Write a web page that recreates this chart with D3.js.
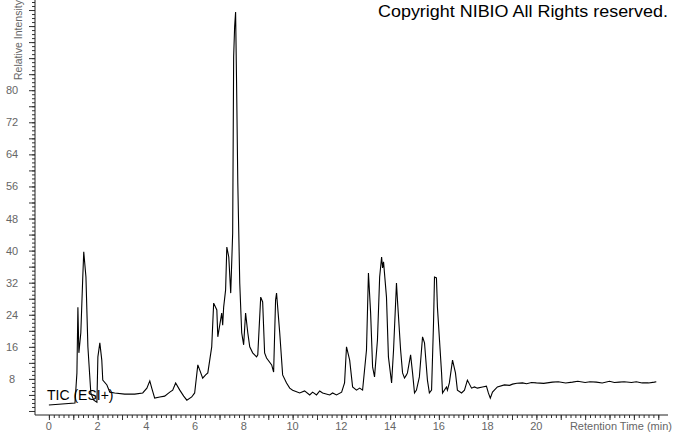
<!DOCTYPE html>
<html>
<head>
    <meta charset="utf-8">
    <title>TIC chromatogram</title>
    <script src="https://cdn.jsdelivr.net/npm/d3@7"></script>
    <style>
        body { margin: 0; background: #fff; }
        text { font-family: "Liberation Sans", Arial, sans-serif; }
    </style>
</head>
<body>
    <script>
        // retention time (min) and relative intensity
        var times = [
          0.00, 1.07, 1.15, 1.19, 1.23, 1.31, 1.39, 1.43, 1.52, 1.60, 1.72, 1.84, 1.97, 2.01, 2.09, 2.17, 2.21, 2.38, 2.50, 2.70,
          3.11, 3.52, 3.85, 4.02, 4.14, 4.22, 4.34, 4.55, 4.75, 4.96, 5.08, 5.20, 5.37, 5.53, 5.66, 5.86, 5.98, 6.11, 6.19, 6.31,
          6.43, 6.52, 6.68, 6.76, 6.89, 6.93, 7.09, 7.13, 7.17, 7.25, 7.30, 7.38, 7.46, 7.54, 7.58, 7.62, 7.66, 7.70, 7.75, 7.83,
          7.91, 7.99, 8.07, 8.16, 8.24, 8.36, 8.52, 8.57, 8.69, 8.77, 8.85, 8.93, 9.14, 9.22, 9.30, 9.34, 9.47, 9.59, 9.75, 9.88,
          10.00, 10.29, 10.49, 10.70, 10.82, 10.98, 11.11, 11.23, 11.52, 11.64, 11.80, 12.01, 12.13, 12.21, 12.34, 12.46, 12.62, 12.75, 12.87, 13.03,
          13.11, 13.20, 13.28, 13.36, 13.48, 13.57, 13.65, 13.69, 13.73, 13.85, 13.93, 14.06, 14.14, 14.26, 14.30, 14.43, 14.51, 14.59, 14.67, 14.71,
          14.84, 14.92, 15.00, 15.08, 15.20, 15.33, 15.41, 15.53, 15.61, 15.70, 15.78, 15.82, 15.90, 15.94, 16.11, 16.15, 16.31, 16.35, 16.43, 16.56,
          16.68, 16.76, 16.93, 17.05, 17.17, 17.34, 17.46, 17.58, 17.79, 17.95, 18.03, 18.11, 18.20, 18.40, 18.69, 18.90, 19.02, 19.20, 19.43, 19.60,
          19.80, 20.00, 20.30, 20.66, 20.90, 21.20, 21.48, 21.70, 22.00, 22.20, 22.46, 22.70, 23.00, 23.20, 23.40, 23.60, 23.90, 24.10, 24.34, 24.60,
          24.84, 24.92
        ];
        var intensity = [
          1.5, 2.0, 9.5, 25.9, 14.5, 19.5, 33.4, 39.7, 33.4, 16.0, 4.5, 2.7, 2.2, 13.5, 17.0, 12.7, 7.7, 6.5, 4.7, 4.5,
          4.2, 4.2, 4.5, 5.7, 7.5, 5.7, 3.2, 3.5, 3.7, 4.7, 5.2, 7.0, 5.2, 3.7, 2.7, 3.5, 4.5, 11.5, 10.2, 8.2,
          9.0, 9.5, 16.0, 26.9, 25.2, 18.5, 24.4, 21.4, 25.9, 30.2, 40.9, 38.4, 29.4, 44.4, 88.3, 95.8, 99.5, 81.8, 56.9, 31.9,
          19.5, 16.5, 24.4, 19.5, 16.0, 14.5, 13.5, 14.0, 28.4, 27.2, 14.5, 13.2, 11.5, 9.7, 27.7, 29.4, 19.5, 9.0, 7.0, 5.7,
          5.2, 4.5, 5.0, 4.0, 4.7, 4.0, 5.0, 4.5, 4.0, 4.5, 4.0, 4.7, 7.0, 16.0, 12.7, 6.0, 5.2, 5.7, 5.2, 15.2,
          34.4, 24.4, 11.0, 8.5, 17.7, 33.4, 38.4, 35.7, 37.2, 28.4, 13.5, 7.0, 15.2, 31.9, 27.7, 15.2, 9.5, 8.2, 9.0, 9.5,
          14.0, 9.5, 4.5, 5.2, 8.5, 18.5, 17.0, 7.7, 4.5, 5.2, 21.9, 33.4, 33.2, 25.9, 9.5, 4.5, 6.0, 5.2, 7.0, 12.7,
          9.5, 5.2, 4.5, 5.2, 7.7, 5.7, 6.0, 5.7, 6.0, 6.2, 4.5, 3.2, 4.7, 6.0, 6.5, 6.4, 6.7, 6.9, 7.0, 6.8,
          7.1, 7.0, 6.9, 7.2, 7.3, 7.0, 7.2, 7.4, 7.1, 7.3, 7.2, 7.0, 7.4, 7.1, 7.2, 7.3, 7.1, 7.3, 7.0, 7.0,
          7.2, 7.3
        ];
        var xLabels = [0, 2, 4, 6, 8, 10, 12, 14, 16, 18, 20];
        var yLabels = [8, 16, 24, 32, 40, 48, 56, 64, 72, 80];

        var width = 674;
        var height = 434;

        var x = d3.scaleLinear()
                  .domain([-0.57, 25.4])
                  .range([35, 668]);

        var y = d3.scaleLinear()
                  .domain([-1, 102.5])
                  .range([415, 0]);

        var svg = d3.select("body").append("svg")
            .attr("width", width)
            .attr("height", height);

        // y axis: minor ticks every unit, longer ones every 4
        svg.append("g")
            .attr("transform", "translate(35,0)")
            .call(d3.axisLeft(y).tickValues(d3.range(0, 103, 1)).tickSize(3).tickFormat(""))
            .call(function(g) { g.select(".domain").remove(); });
        svg.append("g")
            .attr("transform", "translate(35,0)")
            .call(d3.axisLeft(y).tickValues(d3.range(0, 103, 4)).tickSize(6).tickFormat(""))
            .call(function(g) { g.select(".domain").remove(); });

        // x axis: minor ticks every 0.2 min, longer every minute
        svg.append("g")
            .attr("transform", "translate(0,415)")
            .call(d3.axisBottom(x).tickValues(d3.range(0, 126, 1).map(function(d) { return d / 5; })).tickSize(3).tickFormat(""))
            .call(function(g) { g.select(".domain").remove(); });
        svg.append("g")
            .attr("transform", "translate(0,415)")
            .call(d3.axisBottom(x).tickValues(d3.range(0, 26, 1)).tickSize(5).tickFormat(""))
            .call(function(g) { g.select(".domain").remove(); });

        svg.selectAll(".tick line").attr("stroke", "#333");

        // axis lines
        svg.append("line")
            .attr("x1", 35).attr("x2", 35)
            .attr("y1", 0).attr("y2", 415)
            .attr("stroke", "#222");
        svg.append("line")
            .attr("x1", 35).attr("x2", 668)
            .attr("y1", 415).attr("y2", 415)
            .attr("stroke", "#222");

        // tick labels
        svg.selectAll(".ylab")
            .data(yLabels)
            .enter()
            .append("text")
            .attr("x", 12)
            .attr("y", function(d) { return y(d) + 4; })
            .attr("text-anchor", "middle")
            .attr("font-size", 11)
            .attr("fill", "#666")
            .text(function(d) { return d; });

        svg.selectAll(".xlab")
            .data(xLabels)
            .enter()
            .append("text")
            .attr("x", function(d) { return x(d); })
            .attr("y", 430)
            .attr("text-anchor", "middle")
            .attr("font-size", 11)
            .attr("fill", "#666")
            .text(function(d) { return d; });

        svg.append("text")
            .attr("x", 672)
            .attr("y", 430)
            .attr("text-anchor", "end")
            .attr("font-size", 11)
            .attr("fill", "#666")
            .text("Retention Time (min)");

        svg.append("text")
            .attr("transform", "translate(22,80) rotate(-90)")
            .attr("font-size", 10.5)
            .attr("fill", "#666")
            .text("Relative Intensity");

        // the trace
        var line = d3.line()
            .x(function(d, i) { return x(times[i]); })
            .y(function(d) { return y(d); });

        svg.append("path")
            .datum(intensity)
            .attr("d", line)
            .attr("fill", "none")
            .attr("stroke", "#000")
            .attr("stroke-width", 1.1);

        svg.append("text")
            .attr("x", 47)
            .attr("y", 400)
            .attr("font-size", 14)
            .attr("fill", "#000")
            .text("TIC (ESI+)");

        svg.append("text")
            .attr("x", 378)
            .attr("y", 17)
            .attr("font-size", 17)
            .attr("textLength", 290)
            .attr("lengthAdjust", "spacingAndGlyphs")
            .attr("fill", "#000")
            .text("Copyright NIBIO All Rights reserved.");
    </script>
</body>
</html>
